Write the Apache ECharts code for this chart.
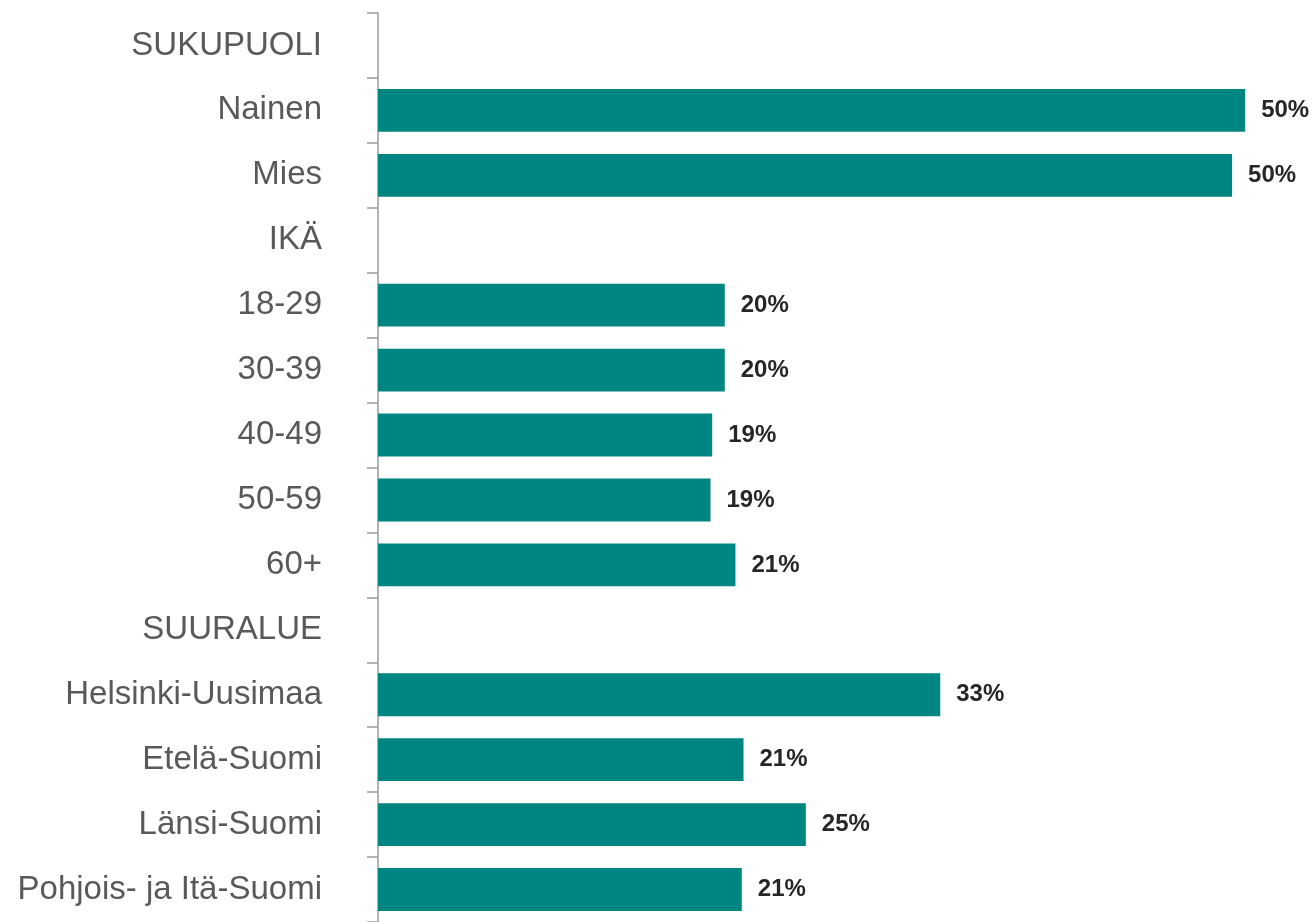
<!DOCTYPE html>
<html>
<head>
<meta charset="utf-8">
<style>
html,body{margin:0;padding:0;background:#fff;}
#chart{width:1315px;height:922px;}
</style>
<script src="https://cdn.jsdelivr.net/npm/echarts@6/dist/echarts.min.js"></script>
</head>
<body>
<div id="chart"></div>
<script>
const categories = [
  'SUKUPUOLI', 'Nainen', 'Mies',
  'IKÄ', '18-29', '30-39', '40-49', '50-59', '60+',
  'SUURALUE', 'Helsinki-Uusimaa', 'Etelä-Suomi', 'Länsi-Suomi', 'Pohjois- ja Itä-Suomi'
];
const values = [
  null, 50.39, 49.63,
  null, 20.15, 20.15, 19.42, 19.32, 20.77,
  null, 32.67, 21.24, 24.86, 21.14
];
const valueMin = 0;
const valueMax = 54;

const chart = echarts.init(document.getElementById('chart'), null, {renderer: 'canvas'});
chart.setOption({
  animation: false,
  backgroundColor: '#ffffff',
  grid: {left: 378, top: 13, width: 929.3, height: 912, containLabel: false},
  xAxis: {
    type: 'value', min: valueMin, max: valueMax, show: false
  },
  yAxis: {
    type: 'category', data: categories, inverse: true,
    axisLine: {show: true, lineStyle: {color: '#9a9a9a', width: 1.5}},
    axisTick: {show: true, inside: false, length: 11, lineStyle: {color: '#9a9a9a', width: 1.5}},
    axisLabel: {
      margin: 56, color: '#595959', fontSize: 33,
      fontFamily: '"Liberation Sans", Arial, sans-serif'
    },
    splitLine: {show: false}
  },
  series: [{
    type: 'bar',
    data: values,
    barCategoryGap: '34%',
    itemStyle: {color: '#008682'},
    label: {
      show: true, position: 'right', distance: 16,
      color: '#262626', fontSize: 24, fontWeight: 'bold',
      fontFamily: '"Liberation Sans", Arial, sans-serif',
      formatter: p => (p.value == null ? '' : Math.round(p.value) + '%')
    }
  }]
});
</script>
</body>
</html>
